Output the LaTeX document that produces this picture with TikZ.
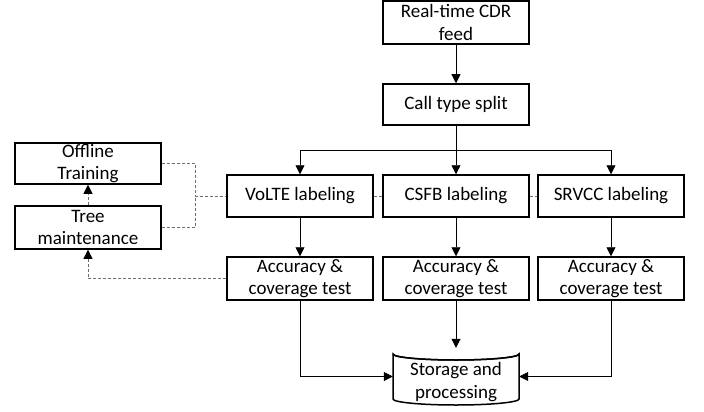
\documentclass[tikz,border=0pt]{standalone}
\usepackage{fontspec}
\setmainfont{Carlito}
\usetikzlibrary{arrows.meta}
\begin{document}
\begin{tikzpicture}[x=1pt,y=-1pt,
  box/.style={draw, line width=1.5pt, fill=white, minimum width=146pt, inner sep=0pt, align=center, font=\fontsize{19}{22.5}\selectfont},
  arr/.style={line width=0.8pt, -{Triangle[length=9pt,width=9pt]}},
  dsh/.style={line width=0.9pt, draw={rgb,255:red,110;green,110;blue,110}, dash pattern=on 3pt off 2pt},
  darr/.style={dsh, -{Triangle[length=9pt,width=9pt,color=black]}}
]
\useasboundingbox (0,0) rectangle (704,412);

% main chain
\node[box, minimum height=43pt] (feed) at (456,22.5) {Real-time CDR\\feed};
\node[box, minimum height=41pt] (split) at (456,104.5) {Call type split};

\node[box, minimum height=42pt] (volte) at (300,196) {VoLTE labeling};
\node[box, minimum height=42pt] (csfb) at (456,196) {CSFB labeling};
\node[box, minimum height=42pt] (srvcc) at (611,196) {SRVCC labeling};

\node[box, minimum height=43pt] (acc1) at (300,278.5) {Accuracy \&\\coverage test};
\node[box, minimum height=43pt] (acc2) at (456,278.5) {Accuracy \&\\coverage test};
\node[box, minimum height=43pt] (acc3) at (611,278.5) {Accuracy \&\\coverage test};

\node[box, minimum height=41pt] (off) at (88,163.5) {Offline\\Training};
\node[box, minimum height=43pt] (tree) at (88,227.5) {Tree\\maintenance};

% storage cylinder
\node[minimum width=126pt, minimum height=57pt, inner sep=0pt] (st) at (456,376.5) {};
\draw[line width=1.5pt, fill=white] (393,354) -- (393,399) arc[start angle=180, end angle=360, x radius=63pt, y radius=6pt] -- (519,354) arc[start angle=0, end angle=-180, x radius=63pt, y radius=6pt] -- cycle;
\draw[line width=1.5pt] (393,354) arc[start angle=180, end angle=360, x radius=63pt, y radius=6pt];
\node[align=center, inner sep=0pt, font=\fontsize{19}{22.5}\selectfont] (sttext) at (456,382) {Storage and\\processing};

% solid connectors
\coordinate (br) at (456,150);
\draw[arr] (feed.south) -- (split.north);
\draw[arr] (split.south) -- (csfb.north);
\draw[arr] (br) -| (volte.north);
\draw[arr] (br) -| (srvcc.north);
\draw[arr] (volte.south) -- (acc1.north);
\draw[arr] (csfb.south) -- (acc2.north);
\draw[arr] (srvcc.south) -- (acc3.north);
\draw[arr] (acc1.south) |- (st.west);
\draw[arr] (acc2.south) -- (st.north);
\draw[arr] (acc3.south) |- (st.east);

% dashed connectors
\coordinate (dj) at (195,196);
\draw[dsh] (off.east) -| (dj);
\draw[dsh] (tree.east) -| (dj);
\draw[dsh] (dj) -- (volte.west);
\draw[dsh] (volte.east) -- (csfb.west);
\draw[dsh] (csfb.east) -- (srvcc.west);
\draw[darr] (tree.north) -- (off.south);
\draw[darr] (acc1.west) -| (tree.south);
\end{tikzpicture}
\end{document}
